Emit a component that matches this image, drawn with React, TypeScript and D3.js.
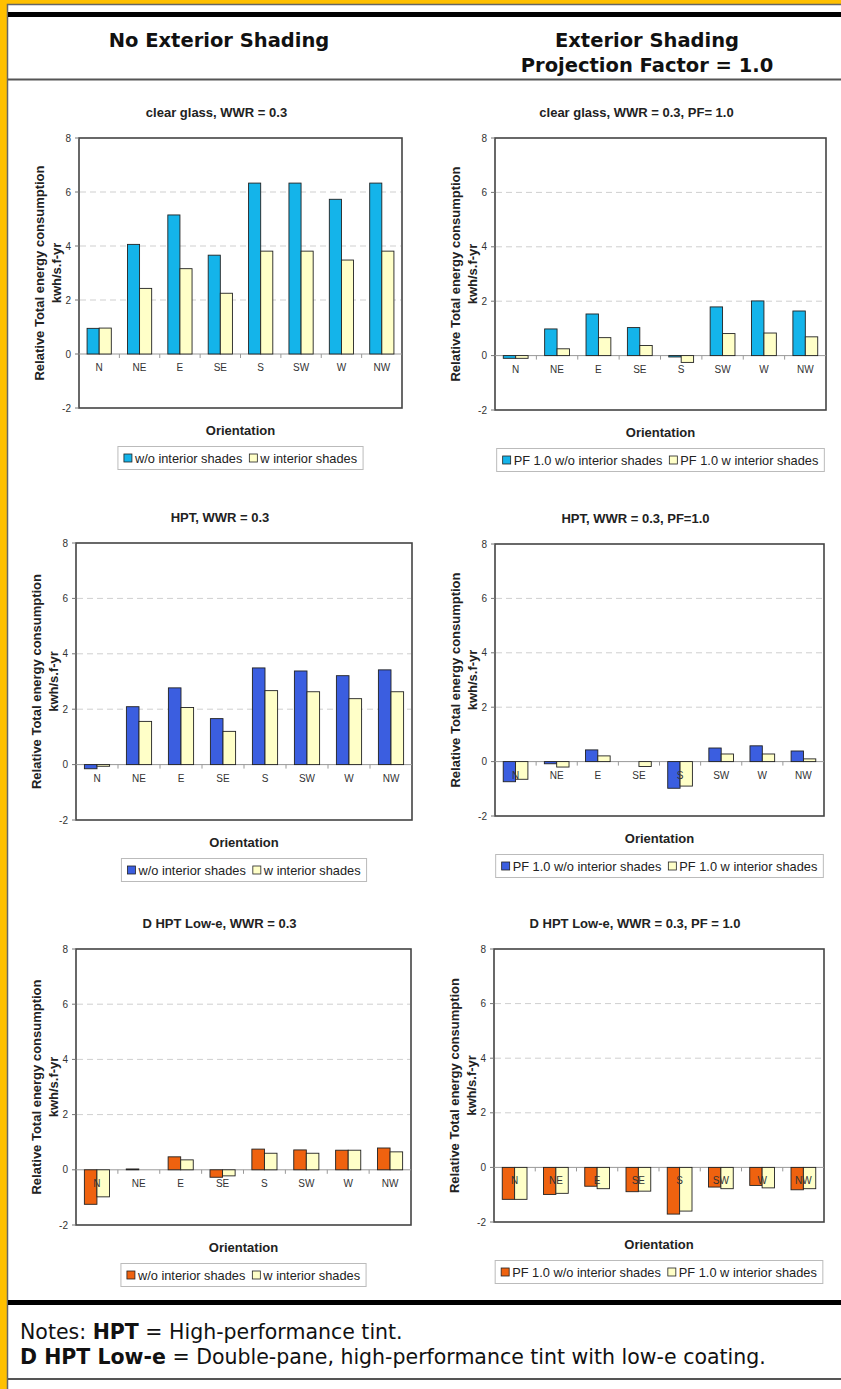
import React, { useEffect, useRef } from "react";
import * as d3 from "d3";

const orientations = ["N", "NE", "E", "SE", "S", "SW", "W", "NW"];
const yTicks = [-2, 0, 2, 4, 6, 8];
const gridTicks = [2, 4, 6];

// relative total energy consumption, kwh/s.f-yr
const clearNoExt = [0.95, 4.06, 5.15, 3.66, 6.33, 6.33, 5.73, 6.33];
const clearNoExtInt = [0.96, 2.43, 3.16, 2.25, 3.81, 3.81, 3.48, 3.81];
const clearPF = [-0.1, 0.98, 1.53, 1.03, -0.05, 1.79, 2.01, 1.64];
const clearPFInt = [-0.1, 0.25, 0.66, 0.37, -0.25, 0.81, 0.83, 0.69];
const hptNoExt = [-0.15, 2.09, 2.77, 1.66, 3.49, 3.38, 3.21, 3.42];
const hptNoExtInt = [-0.06, 1.56, 2.06, 1.2, 2.67, 2.63, 2.38, 2.63];
const hptPF = [-0.74, -0.08, 0.43, 0, -0.98, 0.5, 0.58, 0.39];
const hptPFInt = [-0.65, -0.2, 0.21, -0.18, -0.9, 0.28, 0.28, 0.1];
const dhptNoExt = [-1.25, 0.03, 0.47, -0.27, 0.75, 0.72, 0.71, 0.79];
const dhptNoExtInt = [-0.98, 0, 0.36, -0.22, 0.6, 0.6, 0.71, 0.65];
const dhptPF = [-1.17, -0.99, -0.69, -0.89, -1.71, -0.72, -0.66, -0.82];
const dhptPFInt = [-1.17, -0.95, -0.78, -0.87, -1.6, -0.78, -0.75, -0.78];

const legendNoExt = ["w/o interior shades", "w interior shades"];
const legendPF = ["PF 1.0 w/o interior shades", "PF 1.0 w interior shades"];

const cyan = "#14b4ea";
const blue = "#3b5ee0";
const orange = "#ef620f";
const cream = "#ffffc8";

const panels = [
  { title: "clear glass, WWR = 0.3", series: [clearNoExt, clearNoExtInt], legend: legendNoExt, color: cyan, box: [79, 402, 138, 408] },
  { title: "clear glass, WWR = 0.3, PF= 1.0", series: [clearPF, clearPFInt], legend: legendPF, color: cyan, box: [495, 826, 138, 410] },
  { title: "HPT, WWR = 0.3", series: [hptNoExt, hptNoExtInt], legend: legendNoExt, color: blue, box: [76, 412, 543, 820] },
  { title: "HPT, WWR = 0.3, PF=1.0", series: [hptPF, hptPFInt], legend: legendPF, color: blue, box: [495, 824, 544, 816] },
  { title: "D HPT Low-e, WWR = 0.3", series: [dhptNoExt, dhptNoExtInt], legend: legendNoExt, color: orange, box: [76, 411, 949, 1225] },
  { title: "D HPT Low-e, WWR = 0.3, PF = 1.0", series: [dhptPF, dhptPFInt], legend: legendPF, color: orange, box: [494, 824, 949, 1222] },
];

const chartFont = "'Liberation Sans', Arial, sans-serif";
const pageFont = "'DejaVu Sans', Verdana, sans-serif";

function drawPanel(svg, p) {
  const [x0, x1, y0, y1] = p.box;
  const x = d3.scaleBand().domain(orientations).range([x0, x1]);
  const y = d3.scaleLinear().domain([-2, 8]).range([y1, y0]);
  const cx = (x0 + x1) / 2;
  const g = svg.append("g").attr("font-family", chartFont);

  g.append("text")
    .attr("x", cx - 24)
    .attr("y", y0 - 21.5)
    .attr("text-anchor", "middle")
    .attr("font-size", 13)
    .attr("font-weight", "bold")
    .attr("fill", "#222")
    .text(p.title);

  g.append("rect")
    .attr("x", x0)
    .attr("y", y0)
    .attr("width", x1 - x0)
    .attr("height", y1 - y0)
    .attr("fill", "#fff")
    .attr("stroke", "#444")
    .attr("stroke-width", 1.6);

  g.selectAll(".grid")
    .data(gridTicks)
    .join("line")
    .attr("x1", x0 + 1)
    .attr("x2", x1 - 1)
    .attr("y1", (d) => y(d))
    .attr("y2", (d) => y(d))
    .attr("stroke", "#cfcfcf")
    .attr("stroke-dasharray", "6,4");

  g.selectAll(".ytick")
    .data(yTicks)
    .join("line")
    .attr("x1", x0 - 4)
    .attr("x2", x0)
    .attr("y1", (d) => y(d))
    .attr("y2", (d) => y(d))
    .attr("stroke", "#777");

  g.selectAll(".ylab")
    .data(yTicks)
    .join("text")
    .attr("x", x0 - 8)
    .attr("y", (d) => y(d) + 3.5)
    .attr("text-anchor", "end")
    .attr("font-size", 10)
    .attr("fill", "#333")
    .text((d) => d);

  // zero line + category ticks
  g.append("line")
    .attr("x1", x0)
    .attr("x2", x1)
    .attr("y1", y(0))
    .attr("y2", y(0))
    .attr("stroke", "#999");
  g.selectAll(".xtick")
    .data(orientations.slice(1))
    .join("line")
    .attr("x1", (d) => x(d))
    .attr("x2", (d) => x(d))
    .attr("y1", y(0))
    .attr("y2", y(0) + 4)
    .attr("stroke", "#999");

  const bw = x.bandwidth() * 0.3;
  const colors = [p.color, cream];
  p.series.forEach((vals, si) => {
    g.append("g")
      .selectAll("rect")
      .data(vals.map((v, i) => ({ v, k: orientations[i] })).filter((d) => d.v !== 0))
      .join("rect")
      .attr("x", (d) => x(d.k) + x.bandwidth() * 0.2 + si * bw)
      .attr("y", (d) => y(Math.max(0, d.v)))
      .attr("width", bw)
      .attr("height", (d) => Math.abs(y(d.v) - y(0)))
      .attr("fill", colors[si])
      .attr("stroke", "#222")
      .attr("stroke-width", 0.9);
  });

  g.selectAll(".xlab")
    .data(orientations)
    .join("text")
    .attr("x", (d) => x(d) + x.bandwidth() / 2)
    .attr("y", y(0) + 17)
    .attr("text-anchor", "middle")
    .attr("font-size", 10)
    .attr("fill", "#333")
    .text((d) => d);

  // y axis title
  const ym = (y0 + y1) / 2;
  [["Relative Total energy consumption", 35.3], ["kwh/s.f-yr", 18.3]].forEach(([t, off]) => {
    g.append("text")
      .attr("transform", `translate(${x0 - off},${ym}) rotate(-90)`)
      .attr("text-anchor", "middle")
      .attr("font-size", 13)
      .attr("font-weight", "bold")
      .attr("fill", "#222")
      .text(t);
  });

  g.append("text")
    .attr("x", cx)
    .attr("y", y1 + 26.5)
    .attr("text-anchor", "middle")
    .attr("font-size", 13)
    .attr("font-weight", "bold")
    .attr("fill", "#222")
    .text("Orientation");

  // legend
  const lg = g.append("g");
  const box = lg.append("rect").attr("fill", "#fff").attr("stroke", "#bbb");
  let cursor = 0;
  p.legend.forEach((name, i) => {
    lg.append("rect")
      .attr("x", cursor)
      .attr("y", -4)
      .attr("width", 8)
      .attr("height", 8)
      .attr("fill", colors[i])
      .attr("stroke", "#222")
      .attr("stroke-width", 0.8);
    const t = lg
      .append("text")
      .attr("x", cursor + 11)
      .attr("y", 4.5)
      .attr("font-size", 12.8)
      .attr("fill", "#222")
      .text(name);
    cursor += 11 + t.node().getComputedTextLength() + 7;
  });
  const w = cursor - 7;
  const ly = y1 + 50;
  lg.attr("transform", `translate(${cx - w / 2},${ly})`);
  box.attr("x", -6).attr("y", -11.5).attr("width", w + 12).attr("height", 23);
}

const App = () => {
  const ref = useRef(null);

  useEffect(() => {
    const svg = d3.select(ref.current);
    svg.selectAll("*").remove();

    svg.append("rect").attr("width", 841).attr("height", 1389).attr("fill", "#ffc000");
    svg.append("rect")
      .attr("x", 7.5)
      .attr("y", 4.5)
      .attr("width", 840)
      .attr("height", 1390)
      .attr("fill", "#fff")
      .attr("stroke", "#666")
      .attr("stroke-width", 1.5);

    // thick rules
    svg.append("rect").attr("x", 8).attr("y", 12).attr("width", 833).attr("height", 5).attr("fill", "#000");
    svg.append("rect").attr("x", 8).attr("y", 1300).attr("width", 833).attr("height", 5).attr("fill", "#000");
    svg.append("rect").attr("x", 8).attr("y", 78.5).attr("width", 833).attr("height", 2).attr("fill", "#555");
    svg.append("rect").attr("x", 8).attr("y", 1378).attr("width", 833).attr("height", 2).attr("fill", "#555");

    const head = svg.append("g").attr("font-family", pageFont).attr("font-weight", "bold").attr("font-size", 19.5).attr("fill", "#111").attr("text-anchor", "middle");
    head.append("text").attr("x", 219).attr("y", 47).text("No Exterior Shading");
    head.append("text").attr("x", 647).attr("y", 47).text("Exterior Shading");
    head.append("text").attr("x", 647).attr("y", 72).text("Projection Factor = 1.0");

    panels.forEach((p) => drawPanel(svg, p));

    const notes = svg.append("g").attr("font-family", pageFont).attr("font-size", 20.5).attr("fill", "#111");
    const n1 = notes.append("text").attr("x", 20).attr("y", 1338.5);
    n1.append("tspan").text("Notes: ");
    n1.append("tspan").attr("font-weight", "bold").text("HPT");
    n1.append("tspan").text(" = High-performance tint.");
    const n2 = notes.append("text").attr("x", 20).attr("y", 1363.5);
    n2.append("tspan").attr("font-weight", "bold").text("D HPT Low-e");
    n2.append("tspan").text(" = Double-pane, high-performance tint with low-e coating.");
  }, []);

  return (
    <div style={{ position: "absolute", left: 0, top: 0 }}>
      <svg ref={ref} width={841} height={1389} style={{ display: "block" }} />
    </div>
  );
};

export default App;
